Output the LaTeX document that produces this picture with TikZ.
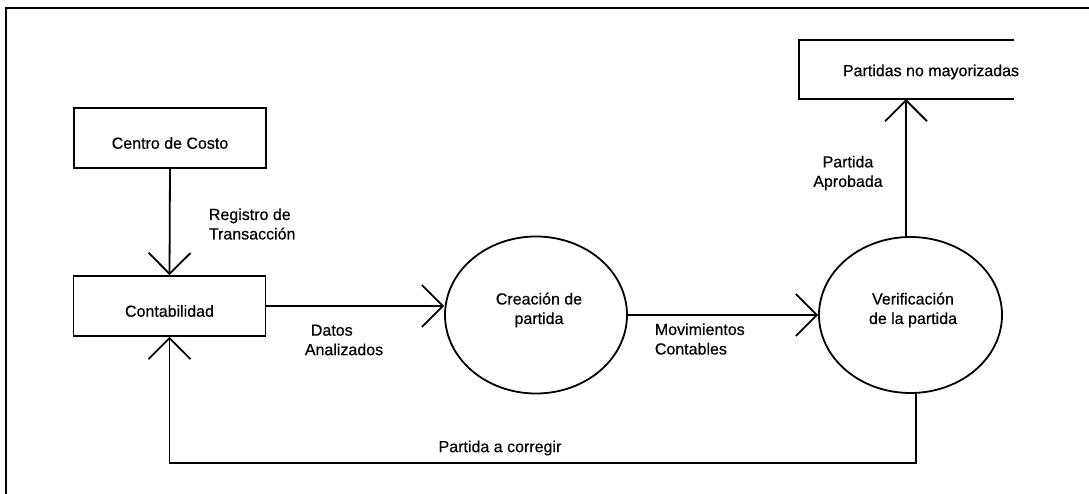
\documentclass[tikz,border=0pt]{standalone}
\usepackage{fontspec}
\setmainfont{Liberation Sans}[FakeBold=0.5]
\usetikzlibrary{arrows.meta,shapes.geometric}
\begin{document}
\begin{tikzpicture}[x=1pt,y=-1pt,
  line width=1.8pt,
  box/.style={draw,rectangle,minimum width=192pt,minimum height=60pt,inner sep=0pt},
  proc/.style={draw,ellipse,minimum width=182pt,minimum height=157pt,inner sep=0pt},
  txt/.style={font=\fontsize{16}{19.5}\selectfont,inner sep=0pt},
  arr/.style={-{Straight Barb[length=21pt,width=42pt]}},
]
\useasboundingbox (0,0) rectangle (1089,494);
% frame
\draw (6,494) -- (6,8) -- (1089,8);

% entities
\node[box] (cc) at (170,138) {};
\node[txt] (cct) at ([yshift=-5pt]cc.center) {Centro de Costo};
\node[box] (cont) at (169.5,306) {};
\node[txt] (contt) at ([yshift=-5pt]cont.center) {Contabilidad};

% processes
\node[proc] (c1) at (536,315) {};
\node[txt,align=center] (c1t) at (539,310) {Creación de\\partida};
\node[proc,minimum width=183pt,minimum height=156pt] (c2) at (910.5,315) {};
\node[txt,align=center] (c2t) at (913,310) {Verificación\\de la partida};

% data store
\draw (1014,40) -- (799,40) -- (799,99) -- (1014,99);
\node[txt] (pnm) at (931,72) {Partidas no mayorizadas};
\coordinate (pnmb) at (906,99);
\coordinate (fbc) at (0,463);

% flows
\draw[arr] (cc.south) -- (cont.north);
\draw[arr] (cont.east) -- (cont.east -| c1.west);
\draw[arr] (c1.east) -- (c2.west);
\draw[arr] (c2.north -| pnmb) -- (pnmb);
\draw[arr] (c2.-86) |- (cont.south |- fbc) -- (cont.south);

% labels
\node[txt,align=left,anchor=west] (l1) at (208,224) {Registro de\\Transacción};
\node[txt,align=left,anchor=west] (l2) at (304,340) {\hspace{6pt}Datos\\Analizados};
\node[txt,align=left,anchor=west] (l3) at (654,339) {Movimientos\\Contables};
\node[txt] (l4) at (500,448) {Partida a corregir};
\node[txt,align=center] (l5) at (848,173) {Partida\\Aprobada};
\end{tikzpicture}
\end{document}
